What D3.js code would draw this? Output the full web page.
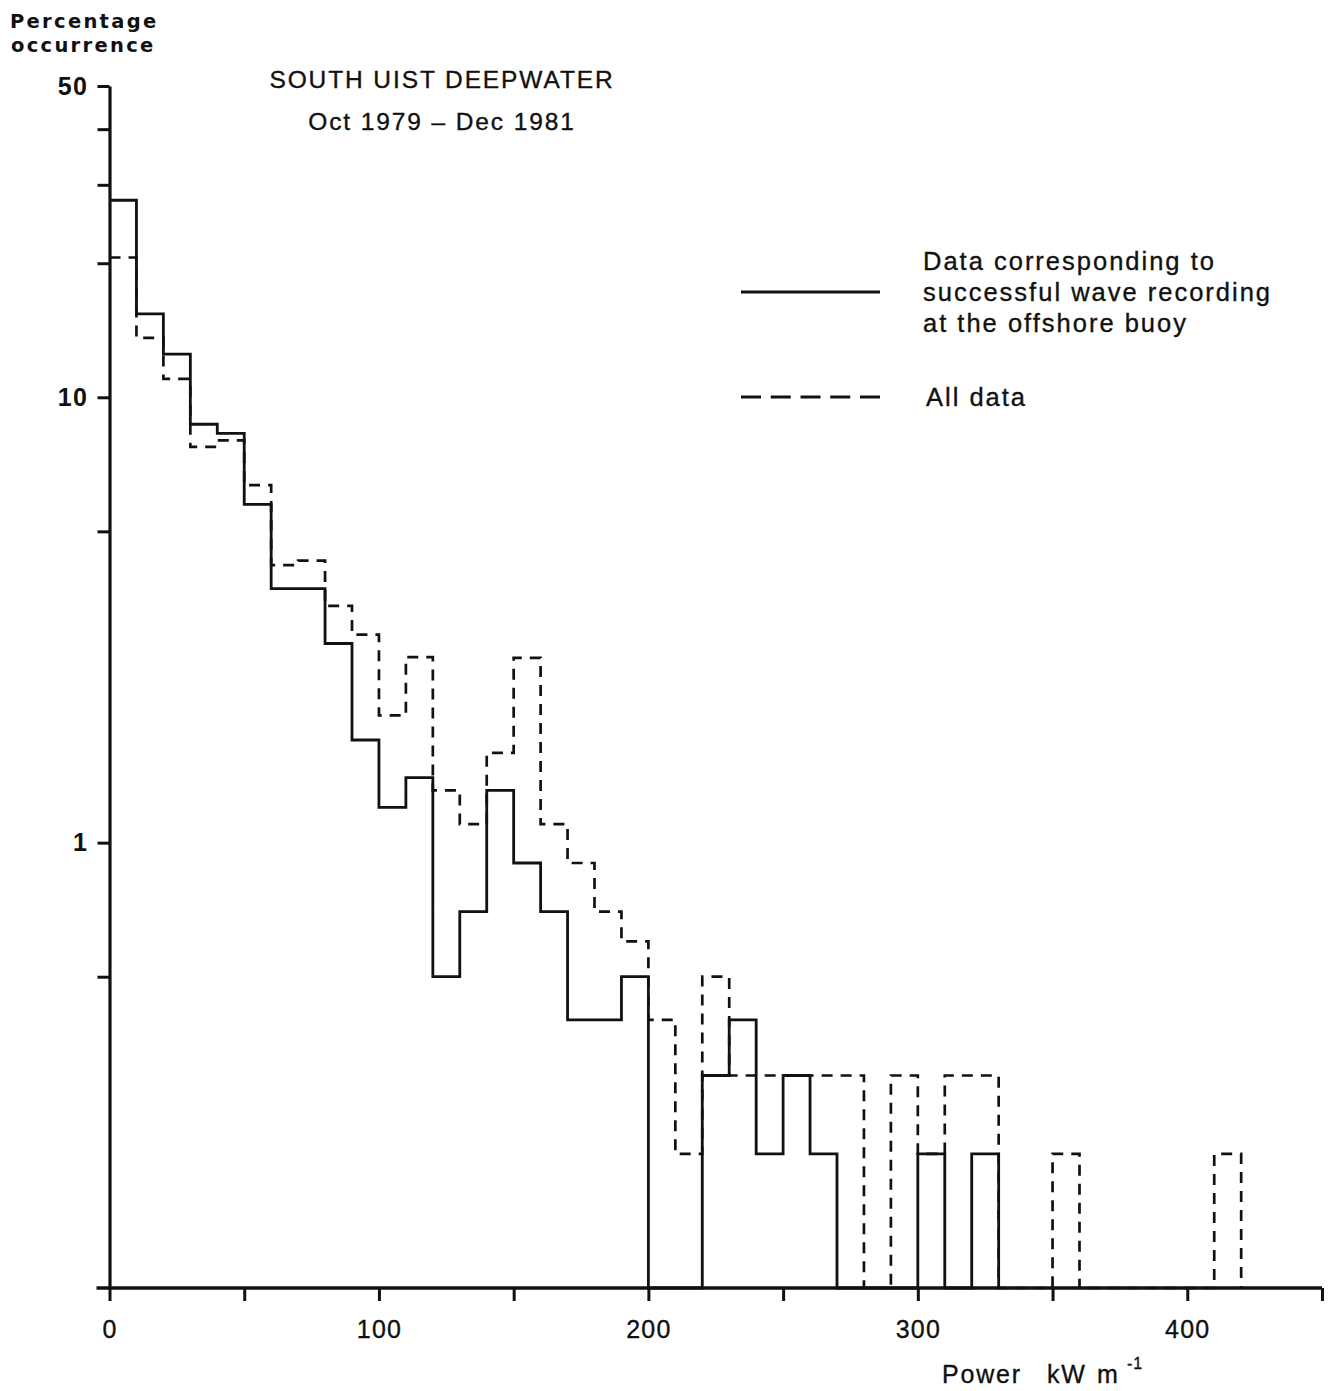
<!DOCTYPE html>
<html>
<head>
<meta charset="utf-8">
<script src="https://cdn.jsdelivr.net/npm/d3@7"></script>
<style>
  html, body { margin: 0; padding: 0; background: #fff; }
  svg { display: block; font-family: "Liberation Sans", Arial, Helvetica, sans-serif; }
</style>
</head>
<body>
<svg id="chart" width="1329" height="1391"></svg>
<script>
// Wave power histogram, 10 kW/m bins starting at 0 (percentage occurrence, log scale)
const binWidth = 10;
const recordedPct = [27.7, 15.4, 12.5, 8.7, 8.3, 5.75, 3.72, 3.72, 2.8, 1.7,
                     1.2, 1.4, 0.5, 0.7, 1.31, 0.9, 0.7, 0.4, 0.4, 0.5,
                     0, 0, 0.3, 0.4, 0.2, 0.3, 0.2, 0, 0, 0,
                     0.2, 0, 0.2];
const allPct = [20.6, 13.6, 11.0, 7.74, 8.0, 6.35, 4.2, 4.3, 3.4, 2.93,
                1.93, 2.61, 1.31, 1.1, 1.59, 2.6, 1.1, 0.9, 0.7, 0.6,
                0.4, 0.2, 0.5, 0.3, 0.3, 0.3, 0.3, 0.3, 0, 0.3,
                0.2, 0.3, 0.3, 0, 0, 0.2, 0, 0, 0, 0,
                0, 0.2];

const xTicks = [0, 50, 100, 150, 200, 250, 300, 350, 400, 450];
const xTickLabels = [0, 100, 200, 300, 400];
const yTicks = [50, 40, 30, 20, 10, 5, 1, 0.5];
const yTickLabels = [50, 10, 1];

const titleLines = ["SOUTH UIST DEEPWATER", "Oct 1979 \u2013 Dec 1981"];
const yAxisTitle = ["Percentage", "occurrence"];
const legendRecorded = ["Data corresponding to", "successful wave recording", "at the offshore buoy"];
const legendAll = "All data";

const svg = d3.select("#chart");

const x = d3.scaleLinear().domain([0, 450]).range([109.5, 1322]);
const y = d3.scaleLog().domain([0.1, 50]).range([1288, 86]);
const yBase = y.domain()[0];

// step outline of a histogram; empty bins sit on the baseline
function stepPoints(values) {
  const pts = values.map((v, i) => [i * binWidth, v]);
  const n = values.length;
  pts.push([n * binWidth, values[n - 1]]);
  pts.push([n * binWidth, 0]);
  return pts;
}
const line = d3.line()
  .x(d => x(d[0]))
  .y(d => y(d[1] > 0 ? d[1] : yBase))
  .curve(d3.curveStepAfter);

const ink = "#111";
const textStroke = 0.35; // gives the lettering a slightly heavier print weight

svg.append("path")
  .attr("d", line(stepPoints(allPct)))
  .attr("fill", "none")
  .attr("stroke", ink)
  .attr("stroke-width", 2.7)
  .attr("stroke-dasharray", "11,8");

svg.append("path")
  .attr("d", line(stepPoints(recordedPct)))
  .attr("fill", "none")
  .attr("stroke", ink)
  .attr("stroke-width", 2.8);

// axes
const yAxis = d3.axisLeft(y)
  .tickValues(yTicks)
  .tickSize(12)
  .tickSizeOuter(0)
  .tickPadding(9)
  .tickFormat(d => yTickLabels.includes(d) ? d3.format("d")(d) : "");
const gy = svg.append("g").attr("transform", `translate(${x.range()[0]},0)`).call(yAxis);
gy.select(".domain").attr("stroke", ink).attr("stroke-width", 3.2);
gy.selectAll(".tick line").attr("stroke", ink).attr("stroke-width", 3);
gy.selectAll(".tick text")
  .attr("fill", ink)
  .attr("font-size", 25)
  .attr("font-weight", "bold")
  .attr("letter-spacing", 1.5)
  .attr("font-family", "Liberation Sans, Arial, sans-serif");

const xAxis = d3.axisBottom(x)
  .tickValues(xTicks)
  .tickSize(13)
  .tickSizeOuter(0)
  .tickPadding(19)
  .tickFormat(d => xTickLabels.includes(d) ? d3.format("d")(d) : "");
const gx = svg.append("g").attr("transform", `translate(0,${y.range()[0]})`).call(xAxis);
gx.select(".domain").remove();
gx.append("line")
  .attr("x1", x.range()[0] - 13).attr("x2", x.range()[1])
  .attr("stroke", ink).attr("stroke-width", 3.4);
gx.selectAll(".tick line").attr("stroke", ink).attr("stroke-width", 3);
gx.selectAll(".tick text")
  .attr("fill", ink)
  .attr("stroke", ink).attr("stroke-width", textStroke)
  .attr("font-size", 25)
  .attr("letter-spacing", 1.2)
  .attr("font-family", "Liberation Sans, Arial, sans-serif");

// y-axis title
svg.append("g").selectAll("text").data(yAxisTitle).join("text")
  .attr("x", (d, i) => i === 0 ? 10 : 11)
  .attr("y", (d, i) => 28 + i * 24)
  .attr("font-family", "DejaVu Sans, sans-serif")
  .attr("font-size", 19.5)
  .attr("font-weight", "bold")
  .attr("letter-spacing", 2.3)
  .attr("fill", ink)
  .text(d => d);

// chart title
svg.append("g").selectAll("text").data(titleLines).join("text")
  .attr("x", 442)
  .attr("y", (d, i) => 88 + i * 42)
  .attr("text-anchor", "middle")
  .attr("font-size", 24.5)
  .attr("letter-spacing", 1.9)
  .attr("stroke", ink).attr("stroke-width", textStroke)
  .attr("fill", ink)
  .text(d => d);

// legend
const legend = svg.append("g");
legend.append("line")
  .attr("x1", 741).attr("x2", 880).attr("y1", 292).attr("y2", 292)
  .attr("stroke", ink).attr("stroke-width", 2.8);
legend.append("line")
  .attr("x1", 741).attr("x2", 880).attr("y1", 397).attr("y2", 397)
  .attr("stroke", ink).attr("stroke-width", 2.8)
  .attr("stroke-dasharray", "20,9.75");
legend.selectAll("text.rec").data(legendRecorded).join("text")
  .attr("class", "rec")
  .attr("x", 923)
  .attr("y", (d, i) => 270 + i * 31)
  .attr("font-size", 25.5)
  .attr("letter-spacing", 2)
  .attr("stroke", ink).attr("stroke-width", textStroke)
  .attr("fill", ink)
  .text(d => d);
legend.append("text")
  .attr("x", 926).attr("y", 406)
  .attr("font-size", 25.5)
  .attr("letter-spacing", 2)
  .attr("stroke", ink).attr("stroke-width", textStroke)
  .attr("fill", ink)
  .text(legendAll);

// x-axis title with superscript unit
const xt = svg.append("text")
  .attr("x", 942).attr("y", 1383)
  .attr("font-size", 25)
  .attr("letter-spacing", 1.8)
  .attr("stroke", ink).attr("stroke-width", textStroke)
  .attr("fill", ink);
xt.append("tspan").text("Power");
xt.append("tspan").attr("x", 1047).text("kW");
xt.append("tspan").attr("x", 1097).text("m");
xt.append("tspan").attr("x", 1127).attr("dy", -14).attr("font-size", 16).attr("letter-spacing", 1).text("-1");
</script>
</body>
</html>
